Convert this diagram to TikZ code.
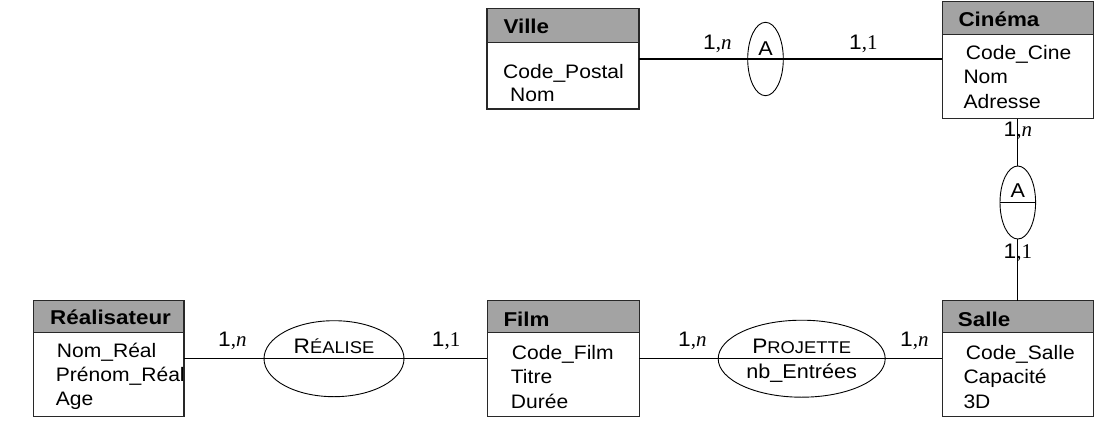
\documentclass[tikz,border=0pt]{standalone}
\usepackage{fontspec}
\setmainfont{Liberation Sans}[FakeStretch=1.08]
\newfontfamily\hdfont{Liberation Sans}[FakeStretch=1.12]
\newfontfamily\cardfont{Liberation Serif}
\usetikzlibrary{shapes.geometric}
\definecolor{hdgray}{RGB}{163,163,163}
\definecolor{edgecol}{RGB}{40,40,40}
\newcommand\fakesc[2]{{\fontsize{21}{24}\selectfont #1}{\fontsize{17}{19}\selectfont #2}}
\newcommand\cardn{1{\cardfont,\itshape n}}
\newcommand\cardone{1{\cardfont,1}}
\tikzset{
  entity/.style={draw=edgecol, line width=1.2pt, anchor=north west, inner sep=0pt, outer sep=0pt},
  hdr/.style={fill=hdgray, draw=edgecol, line width=1.2pt},
  title/.style={anchor=base west, inner sep=0pt, font=\hdfont\bfseries\fontsize{20}{23}\selectfont},
  attr/.style={anchor=base west, inner sep=0pt, font=\fontsize{19.5}{23}\selectfont},
  card/.style={anchor=base west, inner sep=0pt, font=\fontsize{21}{24}\selectfont},
  reltxt/.style={anchor=base, inner sep=0pt, font=\fontsize{20}{24}\selectfont},
  rel/.style={ellipse, draw=black, line width=0.9pt, inner sep=0pt, outer sep=0pt},
  link/.style={line width=1.1pt},
}
\begin{document}
\begin{tikzpicture}[x=1pt,y=-1pt]
\useasboundingbox (0,0) rectangle (1101,423);
\fill[white] (0,0) rectangle (1101,423);

% entities
\node[entity, minimum width=152, minimum height=100.7] (ville) at (487,8.3) {};
\path[hdr] (ville.north west) rectangle ([yshift=-34pt]ville.north east);
\node[title] (villeT) at (503.3,33.3) {Ville};
\node[attr] (villeA1) at (503,78.5) {Code\_Postal};
\node[attr] (villeA2) at (510,101.7) {Nom};

\node[entity, minimum width=151, minimum height=117] (cinema) at (942.3,1.5) {};
\path[hdr] (cinema.north west) rectangle ([yshift=-33pt]cinema.north east);
\node[title] (cinemaT) at (958.3,26.5) {Cinéma};
\node[attr] (cinemaA1) at (965.7,59.5) {Code\_Cine};
\node[attr] (cinemaA2) at (963.3,83.5) {Nom};
\node[attr] (cinemaA3) at (963.3,108.3) {Adresse};

\node[entity, minimum width=150.7, minimum height=116] (real) at (33.3,300.7) {};
\path[hdr] (real.north west) rectangle ([yshift=-32pt]real.north east);
\node[title] (realT) at (50,324.5) {Réalisateur};
\node[attr] (realA1) at (56.7,357.5) {Nom\_Réal};
\node[attr] (realA2) at (55.7,381.5) {Prénom\_Réal};
\node[attr] (realA3) at (55.7,405.5) {Age};

\node[entity, minimum width=152, minimum height=116] (film) at (487.3,300.7) {};
\path[hdr] (film.north west) rectangle ([yshift=-32pt]film.north east);
\node[title] (filmT) at (503.3,326) {Film};
\node[attr] (filmA1) at (511.7,359.3) {Code\_Film};
\node[attr] (filmA2) at (510.7,383.3) {Titre};
\node[attr] (filmA3) at (510.7,408.3) {Durée};

\node[entity, minimum width=151, minimum height=116] (salle) at (942.3,300.7) {};
\path[hdr] (salle.north west) rectangle ([yshift=-32pt]salle.north east);
\node[title] (salleT) at (957.7,326) {Salle};
\node[attr] (salleA1) at (965.7,359.3) {Code\_Salle};
\node[attr] (salleA2) at (963.3,383.3) {Capacité};
\node[attr] (salleA3) at (963.3,408.3) {3D};

% relationships
\node[rel, minimum width=35.6, minimum height=73.4] (a1) at (765.5,59) {};
\node[reltxt] (a1T) at (765.5,55) {A};
\node[rel, minimum width=35.6, minimum height=73] (a2) at (1017.8,202.5) {};
\node[reltxt] (a2T) at (1017.8,197) {A};
\node[rel, minimum width=140, minimum height=76] (realise) at (334,358.7) {};
\node[reltxt] (realiseT) at (334,353.3) {\fakesc{R}{ÉALISE}};
\node[rel, minimum width=167, minimum height=77] (projette) at (801.7,358.7) {};
\node[reltxt] (projetteT) at (801.7,353.3) {\fakesc{P}{ROJETTE}};
\node[reltxt] (projetteA) at (801.7,378.3) {nb\_Entrées};

% connectors
\draw[link] (ville.east |- a1) -- (cinema.west |- a1);
\draw[link] (cinema.south) -- (a2.north);
\draw[link] (a2.south) -- (salle.north);
\draw[link] (a2.west) -- (a2.east);
\draw[link] (real.east) -- (film.west);
\draw[link] (film.east) -- (salle.west);

% cardinalities
\node[card] (c1) at (703,49.3) {\cardn};
\node[card] (c2) at (849,49.3) {\cardone};
\node[card] (c3) at (1003.5,136.7) {\cardn};
\node[card] (c4) at (1003.5,258) {\cardone};
\node[card] (c5) at (218,346) {\cardn};
\node[card] (c6) at (431.7,346) {\cardone};
\node[card] (c7) at (678,346) {\cardn};
\node[card] (c8) at (900,346) {\cardn};
\end{tikzpicture}
\end{document}
